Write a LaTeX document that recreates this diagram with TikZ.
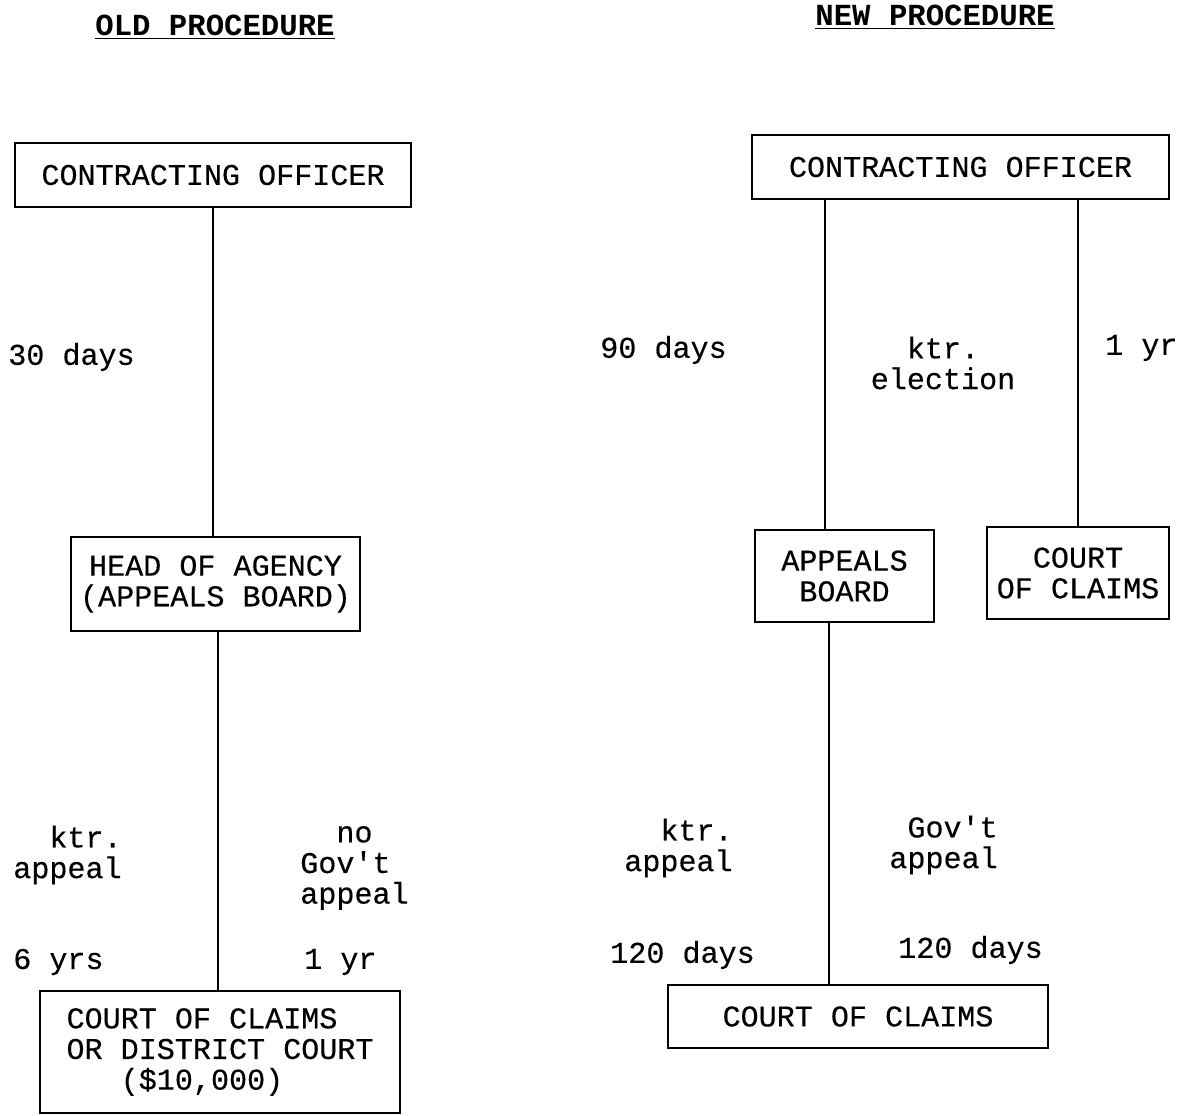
\documentclass[tikz,border=0pt]{standalone}
\usepackage{fontspec}
\setmonofont{Liberation Mono}
\newfontfamily\typewr{Liberation Mono}[FakeBold=0.35]
\usetikzlibrary{positioning, calc}
\tikzset{
    box/.style={rectangle, draw=black, line width=1.4pt, inner sep=0pt,
                align=center},
    lbl/.style={inner sep=0pt, align=left},
    heading/.style={inner sep=0pt, font=\ttfamily\bfseries\fontsize{21.8}{22}\selectfont},
    link/.style={line width=1.4pt, black}
}

\begin{document}
\begin{tikzpicture}[x=0.025cm, y=-0.025cm,
    font=\typewr\fontsize{21.4}{21.8}\selectfont]
    \useasboundingbox (0,0) rectangle (1184,1116);
    % headings
    \node[heading] (oldt) at (215,27) {\underline{OLD PROCEDURE}};
    \node[heading] (newt) at (935,17) {\underline{NEW PROCEDURE}};
    % old procedure
    \node[box, minimum width=9.9cm, minimum height=1.6cm] (oco) at (213,175) {CONTRACTING OFFICER};
    \node[box, minimum width=7.225cm, minimum height=2.35cm] (ohead) at (215.5,584) {HEAD OF AGENCY\\(APPEALS BOARD)};
    \node[box, minimum width=9cm, minimum height=3.05cm] (ocourt) at (220,1052) {COURT OF CLAIMS\hspace*{0.9cm}\\OR DISTRICT COURT\hspace*{0.9cm}\\(\$10,000)\hspace*{0.9cm}};
    \coordinate (ohbot) at ([xshift=0.07cm]ohead.south);
    \draw[link] (oco.south) -- (oco.south |- ohead.north);
    \draw[link] (ohbot) -- (ohbot |- ocourt.north);
    \node[lbl, anchor=west] (o30) at (8,357) {30 days};
    \node[lbl, anchor=west] (oktr) at (13,855) {\hphantom{ap}ktr.\\appeal};
    \node[lbl, anchor=west] (ogov) at (300,868) {\hphantom{ap}no\\Gov't\\appeal};
    \node[lbl, anchor=west] (o6) at (13,962) {6 yrs};
    \node[lbl, anchor=west] (o1) at (304,962) {1 yr};
    % new procedure
    \node[box, minimum width=10.425cm, minimum height=1.6cm] (nco) at (960.5,167) {CONTRACTING OFFICER};
    \node[box, minimum width=4.475cm, minimum height=2.3cm] (nboard) at (844.5,576) {APPEALS\\BOARD};
    \node[box, minimum width=4.55cm, minimum height=2.3cm] (nclaims) at (1078,573) {COURT\\OF CLAIMS};
    \node[box, minimum width=9.5cm, minimum height=1.575cm] (ncourt) at (858,1016.5) {COURT OF CLAIMS};
    \coordinate (nbtop) at ([xshift=-0.49cm]nboard.north);
    \coordinate (nbbot) at ([xshift=-0.39cm]nboard.south);
    \draw[link] (nbtop) -- (nbtop |- nco.south);
    \draw[link] (nclaims.north) -- (nclaims.north |- nco.south);
    \draw[link] (nbbot) -- (nbbot |- ncourt.north);
    \node[lbl, anchor=west] (n90) at (600,350) {90 days};
    \node[lbl, align=center] (nelect) at (943,363) {ktr.\\election};
    \node[lbl, anchor=west] (n1) at (1105,348) {1 yr};
    \node[lbl, anchor=west] (nktr) at (624,848) {\hphantom{ap}ktr.\\appeal};
    \node[lbl, anchor=east, align=right] (ngov) at (998,845) {Gov't\\appeal};
    \node[lbl, anchor=west] (n120a) at (610,955) {120 days};
    \node[lbl, anchor=west] (n120b) at (898,950) {120 days};
\end{tikzpicture}
\end{document}
